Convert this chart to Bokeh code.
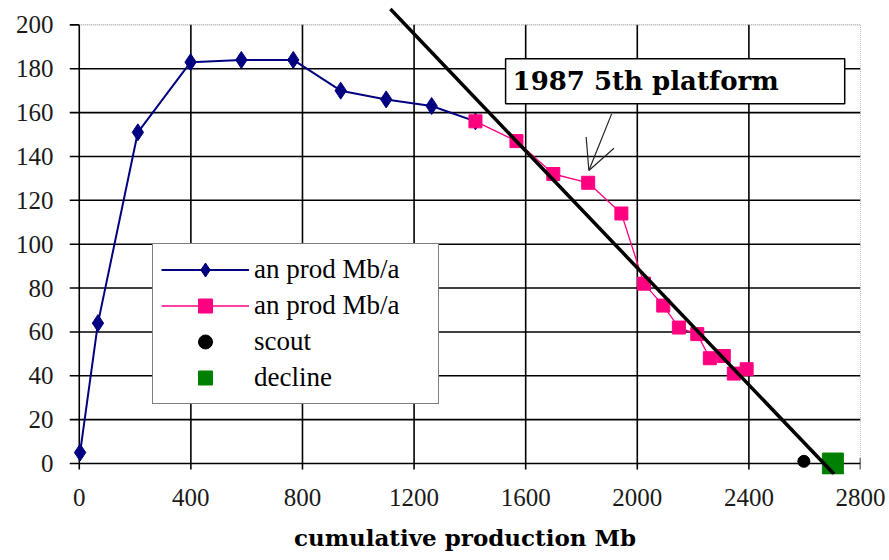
from bokeh.plotting import figure
from bokeh.models import FixedTicker, Legend, LegendItem, Label, Arrow, OpenHead, Range1d
from bokeh.embed import file_html
from bokeh.resources import INLINE

# ---------------- data ----------------
x_ticks = [0, 400, 800, 1200, 1600, 2000, 2400, 2800]
y_ticks = [0, 20, 40, 60, 80, 100, 120, 140, 160, 180, 200]

blue_x = [3, 67, 210, 399, 581, 767, 937, 1100, 1263, 1420]
blue_y = [5, 64, 151, 183, 184, 184, 170, 166, 163, 156]

pink_x = [1420, 1567, 1699, 1824, 1943, 2024, 2093, 2149, 2215, 2260, 2310, 2346, 2392]
pink_y = [156, 147, 132, 128, 114, 82, 72, 62, 59, 48, 49, 41, 43]

scout_x = [2597]
scout_y = [1]

decline_x = [2701]
decline_y = [0]

trend_x = [1115, 2705]
trend_y = [207.2, -4.8]

series_labels = ["an prod Mb/a", "an prod Mb/a", "scout", "decline"]
annotation_text = "1987 5th platform"
x_title = "cumulative production Mb"

# ---------------- styling ----------------
NAVY = "#000080"
PINK = "#FF0080"
GREEN = "#008000"
SERIF = "'Liberation Serif'"
WIDE_SERIF = "'DejaVu Serif'"
X_LO, X_HI = -35, x_ticks[-1]
Y_LO, Y_HI = -5, 211.1
TICK_DOWN = -2.7
TICK_UP = 2.5

p = figure(width=889, height=560, output_backend="svg", toolbar_location=None,
           x_range=Range1d(X_LO, X_HI), y_range=Range1d(Y_LO, Y_HI),
           min_border_left=69, min_border_right=29, min_border_top=0,
           min_border_bottom=86)
p.grid.visible = False
p.outline_line_color = None
p.background_fill_color = "white"
p.border_fill_color = "white"

# grid lines (with their tick stubs) from the tick arrays
vx = x_ticks[:-1]
p.segment(x0=vx, y0=[TICK_DOWN] * len(vx), x1=vx, y1=[y_ticks[-1]] * len(vx),
          line_color="black", line_width=1.6)
hy = y_ticks[:-1]
p.segment(x0=[X_LO] * len(hy), y0=hy, x1=[x_ticks[-1]] * len(hy), y1=hy,
          line_color="black", line_width=1.6)
# last tick stubs (solid) and dotted plot border
p.segment(x0=[x_ticks[-1]], y0=[TICK_DOWN], x1=[x_ticks[-1]], y1=[TICK_UP],
          line_color="black", line_width=1.6)
p.segment(x0=[X_LO], y0=[y_ticks[-1]], x1=[x_ticks[0]], y1=[y_ticks[-1]],
          line_color="black", line_width=1.6)
p.segment(x0=[x_ticks[-1]], y0=[TICK_UP], x1=[x_ticks[-1]], y1=[y_ticks[-1]],
          line_color="#808080", line_width=1, line_dash="1 1")
p.segment(x0=[x_ticks[0]], y0=[y_ticks[-1]], x1=[x_ticks[-1]], y1=[y_ticks[-1]],
          line_color="#808080", line_width=1, line_dash="1 1")

# series
bl = p.line(blue_x, blue_y, line_color=NAVY, line_width=2)
bs = p.scatter(blue_x, blue_y, marker="diamond", size=17, fill_color=NAVY, line_color=NAVY)
pl = p.line(pink_x, pink_y, line_color=PINK, line_width=1.3)
ps = p.scatter(pink_x, pink_y, marker="square", size=13, fill_color=PINK, line_color=PINK)
sc = p.scatter(scout_x, scout_y, marker="circle", size=12, fill_color="black", line_color="black")
dc = p.scatter(decline_x, decline_y, marker="square", size=21, fill_color=GREEN, line_color=GREEN)
p.line(trend_x, trend_y, line_color="black", line_width=3.5)

# axes
p.xaxis.ticker = FixedTicker(ticks=x_ticks)
p.yaxis.ticker = FixedTicker(ticks=y_ticks)
p.axis.axis_line_color = None
p.axis.major_tick_line_color = None
p.axis.minor_tick_line_color = None
p.axis.major_tick_out = 0
p.axis.major_tick_in = 0
p.axis.major_label_text_font = SERIF
p.axis.major_label_text_font_size = "25px"
p.axis.major_label_text_color = "#1a1a1a"
p.xaxis.major_label_standoff = 14
p.yaxis.major_label_standoff = 16
p.xaxis.axis_label = x_title
p.xaxis.axis_label_text_font = WIDE_SERIF
p.xaxis.axis_label_text_font_style = "bold"
p.xaxis.axis_label_text_font_size = "23px"
p.xaxis.axis_label_text_color = "black"
p.xaxis.axis_label_standoff = 15

# legend
legend = Legend(items=[LegendItem(label=series_labels[0], renderers=[bl, bs]),
                       LegendItem(label=series_labels[1], renderers=[pl, ps]),
                       LegendItem(label=series_labels[2], renderers=[sc]),
                       LegendItem(label=series_labels[3], renderers=[dc])],
                location=(83, 70), padding=8, spacing=1, margin=0,
                glyph_width=88, glyph_height=35, label_height=35, label_width=176,
                label_standoff=5, border_line_color="black", border_line_width=1.5,
                background_fill_color="white", background_fill_alpha=1,
                label_text_font=SERIF, label_text_font_size="27px",
                label_text_color="black")
p.add_layout(legend)

# annotation
p.add_layout(Label(x=1528, y=184.5, text=annotation_text, anchor="top_left",
                   text_align="left", text_baseline="top",
                   text_font=WIDE_SERIF, text_font_style="bold",
                   text_font_size="26px", text_color="black",
                   border_line_color="black", border_line_width=1.5,
                   background_fill_color="white", padding=(7, 66, 7, 8)))
p.add_layout(Arrow(end=OpenHead(size=30, line_width=1.2, line_color="#222222"),
                   x_start=1908, y_start=159.4, x_end=1826.5, y_end=133.6,
                   line_width=1.2, line_color="#222222"))

open("out.html", "w").write(file_html(p, INLINE))
